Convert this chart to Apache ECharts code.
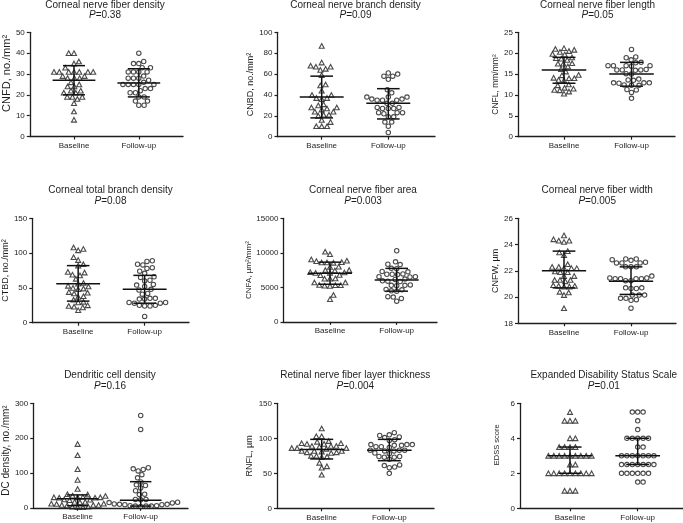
<!DOCTYPE html>
<html><head><meta charset="utf-8">
<script src="https://cdn.jsdelivr.net/npm/echarts@6/dist/echarts.min.js"></script>
<style>html,body{margin:0;padding:0;background:#fff}#c{width:683px;height:523px}</style>
</head><body><div id="c"></div>
<script>
// ---------- DATA ----------
const categories = ['Baseline', 'Follow-up'];
const titles = ['Corneal nerve fiber density', 'Corneal nerve branch density', 'Corneal nerve fiber length',
  'Corneal total branch density', 'Corneal nerve fiber area', 'Corneal nerve fiber width',
  'Dendritic cell density', 'Retinal nerve fiber layer thickness', 'Expanded Disability Status Scale'];
const pValues = ['0.38', '0.09', '0.05', '0.08', '0.003', '0.005', '0.16', '0.004', '0.01'];
const yNames = ['CNFD, no./mm²', 'CNBD, no./mm²', 'CNFL, mm/mm²', 'CTBD, no./mm²', 'CNFA, µm²/mm²',
  'CNFW, µm', 'DC density, no./mm²', 'RNFL, µm', 'EDSS score'];

const cnfdTicks = [0, 10, 20, 30, 40, 50];
const cnfdBaseline = [40,40,36,35,33,31,31,31,31,31,31,31,29,29,28,28,28,26,25,24,24,22,22,21,21,19,19,19,18,16,12,8];
const cnfdFollowup = [40,36,35,35,33,33,31,31,31,31,29,28,28,28,27,26,25,25,25,25,25,23,23,22,21,21,19,19,17,17,15,15];
const cnfdStats = [[27, 20, 34], [25.7, 19, 32.5]]; // [median, Q1, Q3]

const cnbdTicks = [0, 20, 40, 60, 80, 100];
const cnbdBaseline = [87,71,68,67,67,65,64,59,50,49,44,40,40,37,37,36,31,30,28,28,27,26,24,24,21,21,20,16,14,10,10,10];
const cnbdFollowup = [61,60,58,58,55,45,42,38,38,38,36,36,35,35,35,32,32,28,28,27,27,27,23,23,23,22,19,19,14,14,10,4];
const cnbdStats = [[38, 18, 58], [32, 17, 46]];

const cnflTicks = [0, 5, 10, 15, 20, 25];
const cnflBaseline = [21.2,21,20.8,20.5,20.3,19.8,19.7,19,18.8,18.7,18.4,17.6,17.5,17.5,16.8,16.2,15.6,14.8,14.7,14.1,14,14,13.6,13.5,12.5,12.3,11.7,11.5,11.2,11.1,10.8,10.3];
const cnflFollowup = [20.9,19.1,18.9,18.4,17.8,17.7,17,17,17,17,16.9,16.1,16,16,16,15.9,15.1,15,13.8,13.6,13.5,12.9,12.9,12.9,12.8,12.4,12.3,12.3,11.3,11.2,10.6,9.2];
const cnflStats = [[16, 12.8, 19], [15, 12.1, 17.8]];

const ctbdTicks = [0, 50, 100, 150];
const ctbdBaseline = [108,106,104,94,90,84,82,73,72,69,68,63,57,56,53,52,50,49,48,44,43,42,38,37,33,30,29,25,24,23,22,18];
const ctbdFollowup = [89,88,84,83,79,78,74,71,66,65,61,60,55,54,52,48,47,42,41,35,35,34,34,29,29,28,28,25,25,24,24,9];
const ctbdStats = [[56, 31, 82], [48, 28, 68]];

const cnfaTicks = [0, 5000, 10000, 15000];
const cnfaBaseline = [10150,9800,9050,8850,8800,8650,8600,8600,8550,8000,7950,7500,7500,7450,7200,7150,7100,7100,6800,6750,6300,6250,6250,5700,5700,5350,5300,5300,5250,5200,3900,3300];
const cnfaFollowup = [10300,8700,8350,8300,7750,7700,7300,7250,6950,6900,6900,6850,6550,6550,6500,6200,6150,5950,5900,5850,5350,5300,5300,5250,4700,4650,4500,4450,3650,3600,3400,3000];
const cnfaStats = [[7050, 5450, 8650], [6050, 4450, 7750]];

const cnfwTicks = [18, 20, 22, 24, 26];
const cnfwBaseline = [24.7,24.4,24.3,24.3,24.2,23.5,23.4,23.2,22.5,22.3,22.3,22.2,22.2,22.2,21.95,21.9,21.9,21.6,21.6,21.3,21.3,21.3,21.2,20.9,20.85,20.85,20.8,20.8,20.4,20.35,20.15,19.15];
const cnfwFollowup = [22.9,22.9,22.85,22.8,22.65,22.6,22.6,22.6,22.3,22.3,22.3,21.6,21.45,21.45,21.4,21.4,21.4,21.4,21.25,21.25,20.7,20.7,20.65,20.65,20.15,20.15,20.15,19.9,19.9,19.8,19.75,19.15];
const cnfwStats = [[22, 20.7, 23.5], [21.2, 20.2, 22.3]];

const dcTicks = [0, 100, 200, 300];
const dcBaseline = [183,151,111,80,54,39,38,35,34,31,30,30,30,29,29,24,23,22,17,17,16,12,12,11,8,8,8,7,3,3,2,2];
const dcFollowup = [265,225,115,112,110,106,95,86,74,66,64,57,49,39,38,24,24,23,16,15,14,11,10,10,9,9,6,6,5,5,5,4];
const dcStats = [[26, 6, 37], [22, 5, 75]];

const rnflTicks = [0, 50, 100, 150];
const rnflBaseline = [114,103,103,96,95,93,93,92,92,89,89,89,88,86,86,86,85,82,82,82,81,80,80,79,75,75,74,73,65,60,58,48];
const rnflFollowup = [108,105,104,102,101,98,97,91,91,91,90,90,88,88,87,83,83,83,82,82,79,78,74,74,73,73,70,62,61,59,58,50];
const rnflStats = [[84, 70.5, 98.5], [83, 68, 98.5]];

const edssTicks = [0, 2, 4, 6];
const edssBaseline = [5.5,5,5,5,4,4,3.5,3.5,3.5,3.5,3,3,3,3,3,3,3,3,3,2.5,2.5,2,2,2,2,2,2,2,2,2,1,1,1];
const edssFollowup = [5.5,5.5,5.5,5,4.5,4,4,4,4,4,3.5,3.5,3,3,3,3,3,3,3,2.5,2.5,2.5,2.5,2.5,2.5,2.5,2,2,2,2,2,2,1.5,1.5];
const edssStats = [[3, 2, 3.5], [3, 2.5, 4]];

// ---------- LAYOUT (pixels) ----------
const layout = [
  {left:27,    right:183, bx:72,    fx:138,   top:32.3,  bottom:136.5, tx:105,   ty:5.5,   py:15.7,  gap:16.5, ns:11,  pad:22},
  {left:277.5, right:435, bx:321.7, fx:388.3, top:32.3,  bottom:136.7, tx:355.5, ty:5.5,   py:15.7,  gap:21.5, ns:9,   pad:0},
  {left:518,   right:675, bx:564,   fx:631.5, top:32.3,  bottom:136.7, tx:597.5, ty:5.5,   py:15.7,  gap:17,   ns:8.5, pad:0},
  {left:31,    right:189, bx:77.3,  fx:144.3, top:218.3, bottom:322.7, tx:110.5, ty:190.7, py:201.7, gap:21.5, ns:9,   pad:0},
  {left:283.5, right:437, bx:330,   fx:396.7, top:218.3, bottom:321.9, tx:363,   ty:190.7, py:201.7, gap:24.5, ns:8,   pad:0},
  {left:518,   right:676, bx:564,   fx:631,   top:218.3, bottom:323.3, tx:597.2, ty:190.7, py:201.7, gap:16.8, ns:9,   pad:0},
  {left:31,    right:188, bx:76,    fx:140,   top:403.3, bottom:507.8, tx:110,   ty:375.5, py:386.3, gap:21,   ns:10,  pad:10},
  {left:277,   right:434, bx:321.7, fx:389.3, top:403.3, bottom:508.3, tx:355.3, ty:375.5, py:386.3, gap:22.5, ns:9,   pad:0},
  {left:520,   right:683, bx:570,   fx:637.7, top:403.3, bottom:508.3, tx:603.8, ty:375.5, py:386.3, gap:19,   ns:7.5, pad:22}
];

const panels = [
  {ticks:cnfdTicks, base:cnfdBaseline, fu:cnfdFollowup, stats:cnfdStats},
  {ticks:cnbdTicks, base:cnbdBaseline, fu:cnbdFollowup, stats:cnbdStats},
  {ticks:cnflTicks, base:cnflBaseline, fu:cnflFollowup, stats:cnflStats},
  {ticks:ctbdTicks, base:ctbdBaseline, fu:ctbdFollowup, stats:ctbdStats},
  {ticks:cnfaTicks, base:cnfaBaseline, fu:cnfaFollowup, stats:cnfaStats},
  {ticks:cnfwTicks, base:cnfwBaseline, fu:cnfwFollowup, stats:cnfwStats},
  {ticks:dcTicks,   base:dcBaseline,   fu:dcFollowup,   stats:dcStats},
  {ticks:rnflTicks, base:rnflBaseline, fu:rnflFollowup, stats:rnflStats},
  {ticks:edssTicks, base:edssBaseline, fu:edssFollowup, stats:edssStats}
];

const FONT = '"Liberation Sans", Arial, sans-serif';
const INK = '#1e1e1e';
const D = 5.4; // collision diameter in px for the beeswarm layout

// beeswarm: horizontal offsets (in x-axis units) computed from the values
function swarm(values, pxPerY, pxPerX) {
  const order = values.map((v, i) => i).sort((a, b) => values[a] - values[b]);
  const placed = [];
  const out = new Array(values.length).fill(0);
  let side = 1;
  order.forEach(i => {
    const y = values[i] * pxPerY;
    const near = placed.filter(p => Math.abs(p.y - y) < D);
    const cands = [0];
    near.forEach(p => {
      const w = Math.sqrt(D * D - (p.y - y) * (p.y - y));
      cands.push(p.x + w, p.x - w);
    });
    cands.sort((a, b) => {
      const d = Math.abs(a) - Math.abs(b);
      if (Math.abs(d) > 1e-6) return d;
      return (b - a) * side;
    });
    let x = 0;
    for (const c of cands) {
      if (near.every(p => Math.hypot(p.x - c, p.y - y) >= D - 1e-6)) { x = c; break; }
    }
    if (Math.abs(x) > 1e-6) side = -side;
    placed.push({x, y});
    out[i] = x / pxPerX;
  });
  return out;
}

const option = {animation:false, grid:[], xAxis:[], yAxis:[], series:[], graphic:[]};

panels.forEach((p, k) => {
  const L = layout[k];
  const sp = L.fx - L.bx;
  const xmin = -(L.bx - L.left) / sp, xmax = 1 + (L.right - L.fx) / sp;
  const ymin = p.ticks[0], ymax = p.ticks[p.ticks.length - 1], step = p.ticks[1] - p.ticks[0];
  const pxPerY = (L.bottom - L.top) / (ymax - ymin);
  option.grid.push({left:L.left, top:L.top, width:L.right - L.left, height:L.bottom - L.top, containLabel:false});
  option.xAxis.push({
    gridIndex:k, type:'value', min:xmin, max:xmax,
    axisLine:{show:true, onZero:false, lineStyle:{color:INK, width:1.3}},
    axisTick:{show:true, customValues:[0, 1], length:3, lineStyle:{color:INK, width:1.2}},
    axisLabel:{show:true, customValues:[0, 1], formatter:v => categories[Math.round(v)], fontSize:8, fontFamily:FONT, color:INK, margin:5},
    splitLine:{show:false}
  });
  option.yAxis.push({
    gridIndex:k, type:'value', min:ymin, max:ymax, interval:step,
    name:yNames[k], nameLocation:'middle', nameGap:L.gap,
    nameTextStyle:{fontSize:L.ns, fontFamily:FONT, color:INK, padding:[0, 0, 0, L.pad]},
    axisLine:{show:true, onZero:false, lineStyle:{color:INK, width:1.3}},
    axisTick:{show:true, length:3, lineStyle:{color:INK, width:1.2}},
    axisLabel:{fontSize:8, fontFamily:FONT, color:INK, margin:5, formatter:v => String(v)},
    splitLine:{show:false}
  });
  [p.base, p.fu].forEach((vals, g) => {
    const off = swarm(vals.map(v => v - ymin), pxPerY, sp);
    option.series.push({
      type:'scatter', xAxisIndex:k, yAxisIndex:k, silent:true, clip:false,
      symbol: g === 0 ? 'triangle' : 'circle',
      symbolSize: g === 0 ? [5, 4.6] : 4.4,
      itemStyle:{color:'rgba(255,255,255,0)', borderColor:INK, borderWidth:1.1},
      data: vals.map((v, i) => [g + off[i], v]),
      z:2
    });
  });
  option.series.push({
    type:'custom', xAxisIndex:k, yAxisIndex:k, silent:true, clip:false, z:5,
    data: p.stats.map((s, g) => [g, s[0], s[1], s[2]]),
    encode:{x:0, y:[1, 2, 3]},
    renderItem:(params, api) => {
      const c = api.value(0), m = api.value(1), q1 = api.value(2), q3 = api.value(3);
      const seg = (x0, y0, x1, y1) => {
        const a = api.coord([x0, y0]), b = api.coord([x1, y1]);
        return {type:'line', shape:{x1:a[0], y1:a[1], x2:b[0], y2:b[1]}, style:{stroke:'#111', lineWidth:1.5}};
      };
      return {type:'group', children:[
        seg(c - 0.33, m, c + 0.33, m),
        seg(c - 0.17, q1, c + 0.17, q1),
        seg(c - 0.17, q3, c + 0.17, q3),
        seg(c, q1, c, q3)
      ]};
    }
  });
  option.graphic.push({type:'text', x:L.tx, y:L.ty, silent:true,
    style:{text:titles[k], fontSize:10, fontFamily:FONT, fill:INK, align:'center', verticalAlign:'middle'}});
  option.graphic.push({type:'text', x:L.tx, y:L.py, silent:true,
    style:{text:'{i|P}{n|=' + pValues[k] + '}', fontSize:10, fontFamily:FONT, fill:INK, align:'center', verticalAlign:'middle',
      rich:{i:{fontStyle:'italic', fontSize:10, fontFamily:FONT, fill:INK}, n:{fontSize:10, fontFamily:FONT, fill:INK}}}});
});

const chart = echarts.init(document.getElementById('c'), null, {renderer:'canvas'});
chart.setOption(option);
</script></body></html>
